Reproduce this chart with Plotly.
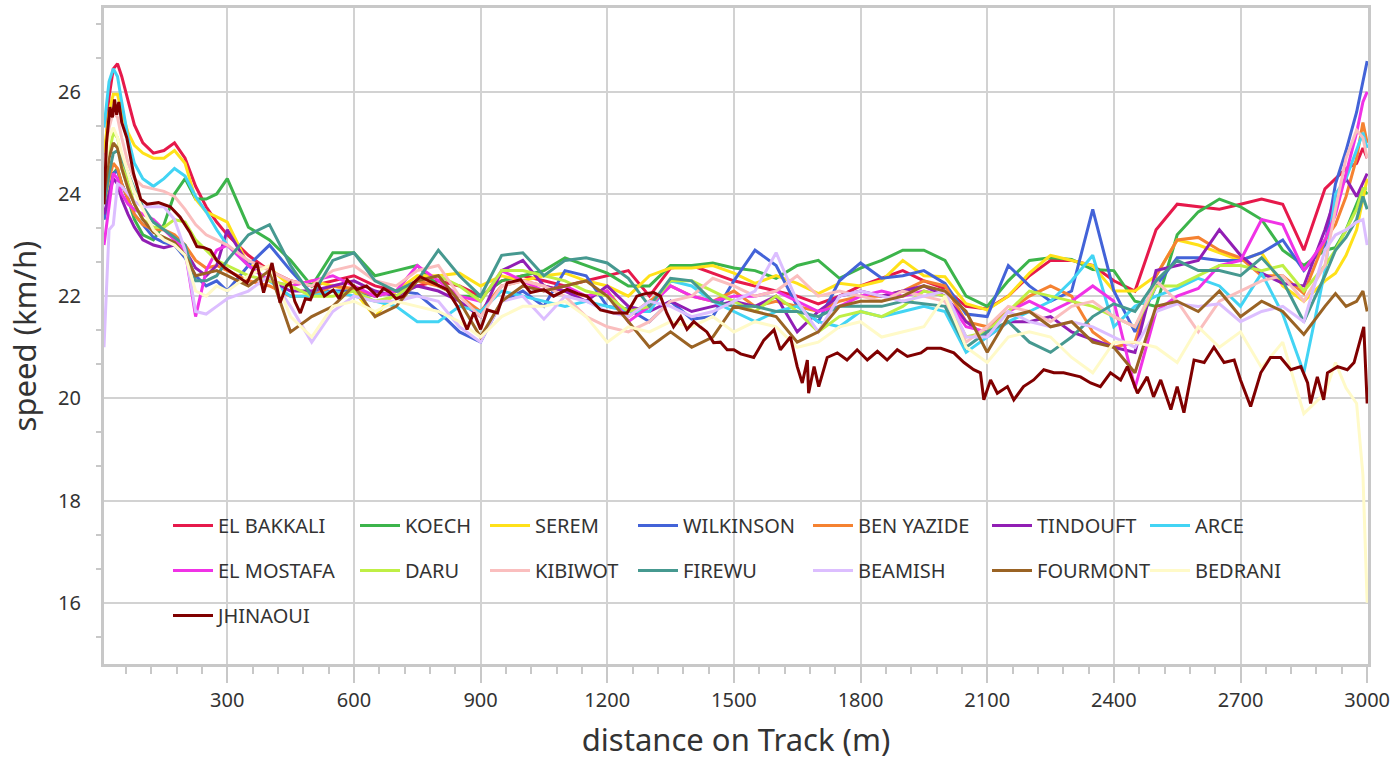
import plotly.graph_objects as go

# ---------------- data ----------------
DIST = [8, 20, 30, 40, 50, 65, 80, 100, 125, 150, 175, 200, 225, 250, 275, 300,
        350, 400, 450, 500, 550, 600, 650, 700, 750, 800,
        850, 900, 950, 1000, 1050, 1100, 1150, 1200, 1250, 1300,
        1350, 1400, 1450, 1500, 1550, 1600, 1650, 1700, 1750, 1800,
        1850, 1900, 1950, 2000, 2050, 2100, 2150, 2200, 2250, 2300,
        2350, 2400, 2450, 2500, 2550, 2600, 2650, 2700, 2750, 2800,
        2850, 2900, 2925, 2950, 2975, 2990, 3000]

EL_BAKKALI = [24.3, 25.9, 26.45, 26.55, 26.3, 25.8, 25.35, 25.0, 24.8, 24.85, 25.0, 24.7, 24.15, 23.75, 23.45, 23.2,
              22.8, 22.5, 22.3, 22.2, 22.3, 22.4, 22.2, 22.1, 22.2, 22.3,
              22.2, 22.0, 22.3, 22.4, 22.3, 22.2, 22.3, 22.4, 22.5, 22.0,
              22.55, 22.6, 22.45, 22.3, 22.2, 22.1, 22.0, 21.85, 22.0, 22.2,
              22.35, 22.5, 22.3, 22.15, 21.8, 21.75, 22.0, 22.4, 22.7, 22.7,
              22.6, 22.3, 22.1, 23.3, 23.8, 23.75, 23.7, 23.8, 23.9, 23.8,
              22.9, 24.1, 24.3, 24.5, 24.6, 24.9, 24.7]
KOECH = [23.5, 24.0, 24.4, 24.5, 24.2, 23.9, 23.5, 23.2, 23.1, 23.4, 24.0, 24.3, 23.9, 23.9, 24.0, 24.3,
         23.35, 23.1, 22.7, 22.2, 22.85, 22.85, 22.4, 22.5, 22.6, 22.2,
         22.0, 22.0, 22.3, 22.4, 22.5, 22.75, 22.6, 22.45, 22.2, 22.2,
         22.6, 22.6, 22.65, 22.55, 22.5, 22.35, 22.6, 22.7, 22.35, 22.55,
         22.7, 22.9, 22.9, 22.7, 22.0, 21.8, 22.3, 22.7, 22.75, 22.72,
         22.52, 22.5, 21.9, 21.8, 23.2, 23.65, 23.9, 23.75, 23.5, 22.9,
         22.6, 22.9, 22.95, 23.3, 23.8, 24.1, 24.0]
SEREM = [24.8, 25.6, 25.95, 25.95, 25.6, 25.2, 24.95, 24.8, 24.7, 24.7, 24.85, 24.6, 23.9, 23.65, 23.55, 23.45,
         22.6, 22.55, 22.2, 22.3, 22.2, 22.1, 21.6, 22.1, 22.4, 22.4,
         22.45, 22.2, 22.4, 22.3, 22.4, 22.45, 22.3, 22.2, 22.0, 22.4,
         22.55, 22.55, 22.6, 22.45, 22.25, 22.4, 22.25, 22.05, 22.25, 22.2,
         22.3, 22.7, 22.4, 22.38, 21.85, 21.73, 22.0, 22.45, 22.8, 22.7,
         22.6, 22.1, 22.1, 22.4, 23.1, 23.0, 22.85, 22.7, 22.85, 22.2,
         21.9, 22.3, 22.45, 22.8, 23.3, 23.9, 24.3]
WILKINSON = [23.5, 24.0, 24.4, 24.45, 24.2, 23.9, 23.6, 23.4, 23.15, 23.05, 23.0, 22.75, 22.4, 22.2, 22.3, 22.1,
             22.6, 23.0, 22.5, 22.05, 22.1, 22.1, 22.0, 22.1, 22.05, 21.7,
             21.3, 21.1, 21.9, 22.1, 21.8, 22.5, 22.4, 21.8, 21.75, 21.5,
             21.9, 21.55, 21.6, 22.3, 22.9, 22.6, 21.8, 21.5, 22.3, 22.65,
             22.35, 22.4, 22.5, 22.25, 21.65, 21.6, 22.6, 22.2, 21.9, 22.1,
             23.7, 22.1, 21.3, 22.2, 22.75, 22.75, 22.7, 22.7, 22.85, 23.1,
             22.5, 23.0, 24.2, 24.85, 25.6, 26.2, 26.6]
BEN_YAZIDE = [23.8, 24.3, 24.6, 24.5, 24.2, 23.9, 23.6, 23.4, 23.3, 23.3, 23.2, 23.0, 22.7, 22.55, 22.6, 22.5,
              22.3, 22.2, 22.0, 22.0, 22.2, 22.15, 22.0, 22.1, 22.3, 22.2,
              22.0, 21.7, 22.2, 22.3, 22.2, 22.1, 22.0, 22.1, 21.6, 21.9,
              22.2, 22.0, 21.9, 22.1, 21.8, 21.9, 21.8, 21.7, 21.9, 22.0,
              22.0, 22.1, 22.3, 22.2, 21.5, 21.4, 21.7, 22.0, 22.2, 22.0,
              21.3, 21.0, 21.1, 22.4, 23.1, 23.15, 22.9, 22.75, 22.4, 22.4,
              22.05, 23.1, 23.4, 23.95, 24.7, 25.4, 25.0]
TINDOUFT = [23.6, 24.0, 24.3, 24.2, 23.9, 23.6, 23.35, 23.1, 23.0, 22.95, 23.0, 22.9, 22.55, 22.4, 22.6, 23.3,
            22.6, 22.3, 22.1, 22.1, 22.2, 22.3, 22.1, 22.0, 22.2, 22.1,
            21.9, 21.6, 22.5, 22.7, 22.2, 22.1, 21.9, 22.2, 21.8, 21.7,
            21.9, 21.7, 21.8, 21.9, 21.8, 22.0, 21.3, 21.7, 22.0, 22.1,
            22.0, 22.1, 22.2, 22.0, 21.5, 21.2, 21.5, 21.5, 21.6, 21.3,
            21.15, 21.0, 20.9, 22.5, 22.6, 22.7, 23.3, 22.8, 22.45, 22.25,
            22.2, 23.3, 23.95, 24.3, 23.95, 24.2, 24.4]
ARCE = [25.3, 26.2, 26.45, 26.3, 25.8, 25.1, 24.6, 24.3, 24.15, 24.3, 24.5, 24.35, 23.95, 23.65, 23.3, 23.0,
        22.6, 22.3, 22.0, 22.0, 22.1, 22.0, 21.9, 21.8, 21.5, 21.5,
        21.8, 21.7, 22.1, 22.0, 21.9, 21.8, 21.9, 21.8, 21.7, 21.7,
        22.3, 22.2, 21.9, 21.7, 21.5, 21.7, 21.8, 21.5, 21.4, 21.7,
        21.6, 21.7, 21.8, 21.7, 20.9, 21.2, 21.5, 21.7, 21.9, 22.3,
        22.8, 21.4, 21.8, 22.0, 22.15, 22.35, 22.2, 21.8, 22.45, 21.65,
        20.5, 22.5, 24.0, 24.3, 24.85, 25.2, 24.9]
EL_MOSTAFA = [23.0, 23.8, 24.4, 24.3, 24.0, 23.8, 23.7, 23.6, 23.5, 23.3, 23.1, 22.9, 21.6, 22.5, 22.9, 23.0,
              22.6, 22.3, 22.2, 22.3, 22.4, 22.2, 22.0, 22.1, 22.6, 22.3,
              22.0, 21.9, 22.5, 22.3, 22.1, 22.2, 22.0, 22.1, 21.5, 21.8,
              22.2, 22.0, 21.9, 22.0, 22.0, 22.1, 21.9, 21.7, 21.8, 22.0,
              22.1, 22.0, 22.1, 22.0, 21.4, 21.3, 21.7, 21.9, 21.7, 21.9,
              22.2, 21.9, 20.2, 21.7, 22.0, 22.15, 22.6, 22.7, 23.5, 23.4,
              22.5, 23.1, 23.6, 24.4, 25.2, 25.8, 26.0]
DARU = [24.0, 24.8, 25.2, 25.1, 24.7, 24.2, 23.8, 23.5, 23.35, 23.35, 23.5, 23.45, 23.1, 22.9, 22.7, 22.6,
        22.4, 22.3, 22.2, 22.0, 22.0, 22.1, 21.9, 22.0, 22.3, 22.4,
        22.2, 21.9, 22.5, 22.5, 22.4, 22.3, 22.1, 22.0, 21.7, 21.8,
        22.3, 22.3, 22.1, 21.9, 21.7, 22.0, 21.7, 21.3, 21.6, 21.7,
        21.6, 21.8, 22.1, 22.0, 21.2, 21.3, 21.7, 22.1, 22.0, 21.9,
        21.8, 21.6, 21.4, 22.2, 22.2, 22.4, 22.6, 22.6, 22.5, 22.6,
        22.1, 22.6, 22.9, 23.3, 23.7, 24.1, 24.1]
KIBIWOT = [24.5, 25.3, 25.6, 25.5, 25.1, 24.6, 24.3, 24.15, 24.1, 24.05, 23.95, 23.7, 23.4, 23.2, 23.1, 23.0,
           22.7, 22.5, 22.3, 22.2, 22.5, 22.6, 22.3, 22.2, 22.5, 22.6,
           22.0, 21.6, 22.2, 22.3, 22.2, 22.0, 21.6, 21.4, 21.3, 21.5,
           21.9, 22.0, 22.35, 22.2, 22.0, 22.1, 22.4, 22.0, 22.1, 22.0,
           21.9, 22.1, 22.0, 21.9, 21.1, 21.4, 21.8, 21.7, 21.5, 21.8,
           21.9, 21.6, 21.4, 22.3, 21.9, 21.3, 21.9, 22.1, 22.3, 22.4,
           21.9, 22.6, 23.7, 24.7, 25.25, 25.1, 24.7]
FIREWU = [23.8, 24.4, 24.8, 24.85, 24.7, 24.4, 24.1, 23.75, 23.45, 23.3, 23.15, 23.0, 22.3, 22.3, 22.4, 22.7,
          23.2, 23.4, 22.6, 22.0, 22.7, 22.85, 22.3, 22.1, 22.3, 22.9,
          22.4, 22.0, 22.8, 22.85, 22.4, 22.7, 22.75, 22.65, 22.35, 21.8,
          22.35, 22.3, 21.9, 21.8, 21.8, 21.7, 21.7, 21.6, 21.8, 21.8,
          21.8, 21.9, 21.85, 21.8, 21.0, 21.3, 21.5, 21.1, 20.9, 21.2,
          21.6, 21.85, 21.7, 22.3, 22.7, 22.5, 22.5, 22.4, 22.75, 22.3,
          21.5, 22.4, 22.9, 23.15, 23.5, 23.95, 23.7]
BEAMISH = [21.0, 23.3, 23.4, 24.2, 24.15, 24.0, 23.85, 23.75, 23.75, 23.75, 23.5, 22.9, 21.7, 21.65, 21.8, 21.95,
           22.1, 22.4, 21.8, 21.1, 21.7, 22.0, 21.9, 21.9, 22.0, 21.9,
           21.4, 21.1, 21.9, 22.0, 21.55, 22.0, 21.9, 21.7, 21.6, 21.9,
           21.8, 21.6, 21.7, 21.9, 22.1, 22.85, 21.9, 21.3, 22.0, 22.1,
           22.0, 21.9, 22.0, 22.1, 21.2, 21.2, 21.7, 21.5, 21.4, 21.5,
           21.4, 21.2, 21.0, 21.7, 21.85, 21.8, 21.85, 21.5, 21.7, 21.8,
           21.5, 22.9, 23.2, 23.3, 23.45, 23.5, 23.0]
FOURMONT = [24.0, 24.7, 25.0, 24.9, 24.5, 24.1, 23.8, 23.5, 23.25, 23.15, 23.05, 22.8, 22.4, 22.45, 22.5, 22.4,
            22.2, 22.5, 21.3, 21.6, 21.8, 22.2, 21.6, 21.8, 22.3, 22.4,
            21.9, 21.2, 21.9, 22.2, 22.1, 22.2, 22.3, 22.0, 21.5, 21.0,
            21.3, 21.0, 21.2, 21.8, 21.7, 21.6, 21.1, 21.3, 21.8, 21.9,
            21.9, 22.0, 22.2, 22.1, 21.7, 20.9, 21.6, 21.7, 21.4, 21.5,
            21.1, 21.0, 20.5, 21.8, 21.9, 21.7, 22.1, 21.6, 21.9, 21.7,
            21.25, 21.8, 22.05, 21.8, 21.9, 22.1, 21.7]
BEDRANI = [24.3, 25.1, 25.3, 25.1, 24.8, 24.4, 24.05, 23.7, 23.3, 23.1, 23.0, 22.8, 22.1, 22.0, 22.2, 22.1,
           22.4, 22.6, 21.6, 21.2, 21.8, 21.9, 21.7, 21.9, 21.8, 21.7,
           21.5, 21.2, 21.6, 21.8, 21.8, 21.9, 21.6, 21.1, 21.4, 21.3,
           21.5, 21.4, 21.6, 21.3, 21.5, 21.4, 21.0, 21.1, 21.4, 21.5,
           21.2, 21.3, 21.4, 22.0, 21.0, 20.7, 21.2, 21.3, 21.2, 20.8,
           20.5, 21.1, 21.1, 21.0, 20.7, 21.4, 21.0, 21.3, 20.6, 21.1,
           19.7, 20.1, 20.7, 20.2, 19.9, 18.5, 16.0]

JHINAOUI_DIST = [8, 14, 22, 28, 33, 38, 43, 50, 62, 78, 95, 110, 137, 165, 188, 212, 228, 245, 260, 275,
                 295, 314, 330, 347, 360, 370, 386, 406, 425, 440, 449, 460, 473, 485, 497, 513, 530, 551, 565, 584,
                 607, 630, 655, 670, 686, 700, 717, 740, 757, 788, 820, 845, 868, 884, 900, 916, 940, 963, 995, 1018,
                 1050, 1073, 1105, 1130, 1152, 1184, 1215, 1247, 1270, 1290, 1310, 1326, 1341, 1357, 1374, 1389, 1405, 1420, 1436, 1452,
                 1468, 1484, 1500, 1516, 1547, 1571, 1595, 1610, 1634, 1650, 1662, 1674, 1677, 1690, 1701, 1721, 1745, 1768, 1792, 1816,
                 1840, 1863, 1887, 1911, 1943, 1958, 1990, 2021, 2045, 2068, 2084, 2092, 2108, 2124, 2148, 2163, 2186, 2210, 2234, 2258,
                 2281, 2321, 2345, 2368, 2392, 2416, 2432, 2456, 2479, 2494, 2511, 2535, 2550, 2566, 2590, 2614, 2637, 2661, 2685, 2700,
                 2724, 2748, 2771, 2795, 2819, 2843, 2859, 2866, 2882, 2897, 2906, 2930, 2953, 2969, 2985, 2992, 3000]
JHINAOUI = [23.8, 25.0, 25.7, 25.5, 25.85, 25.55, 25.8, 25.4, 25.1, 24.4, 23.9, 23.8, 23.83, 23.75, 23.55, 23.24, 22.97, 22.95, 22.9, 22.7,
            22.55, 22.45, 22.35, 22.26, 22.5, 22.65, 22.07, 22.65, 21.87, 22.2, 22.26, 21.9, 21.67, 21.95, 21.93, 22.26, 22.0, 22.12, 21.95, 22.32,
            22.13, 22.2, 22.0, 22.15, 22.07, 21.95, 22.0, 22.25, 22.38, 22.26, 22.13, 21.8, 21.35, 21.68, 21.35, 21.73, 21.67, 22.26, 22.32, 22.07,
            22.13, 22.0, 22.13, 22.05, 22.0, 21.73, 21.67, 21.67, 22.0, 22.05, 22.07, 22.0, 21.67, 21.4, 21.6, 21.35, 21.5, 21.4, 21.3, 21.09,
            21.1, 20.95, 20.95, 20.87, 20.8, 21.14, 21.34, 20.95, 21.2, 20.62, 20.3, 20.75, 20.1, 20.62, 20.23, 20.8, 20.89, 20.75, 20.95, 20.75,
            20.92, 20.75, 20.95, 20.82, 20.89, 20.98, 20.98, 20.89, 20.7, 20.56, 20.5, 19.97, 20.36, 20.1, 20.23, 19.97, 20.23, 20.36, 20.56, 20.5,
            20.5, 20.42, 20.3, 20.23, 20.5, 20.36, 20.62, 20.1, 20.42, 20.03, 20.36, 19.78, 20.23, 19.72, 20.75, 20.7, 21.0, 20.7, 20.75, 20.36,
            19.84, 20.5, 20.8, 20.8, 20.56, 20.62, 20.3, 19.9, 20.42, 19.97, 20.5, 20.62, 20.56, 20.7, 21.2, 21.4, 19.9]

RUNNERS = ["EL BAKKALI", "KOECH", "SEREM", "WILKINSON", "BEN YAZIDE", "TINDOUFT", "ARCE",
           "EL MOSTAFA", "DARU", "KIBIWOT", "FIREWU", "BEAMISH", "FOURMONT", "BEDRANI", "JHINAOUI"]
SPEEDS = [EL_BAKKALI, KOECH, SEREM, WILKINSON, BEN_YAZIDE, TINDOUFT, ARCE,
          EL_MOSTAFA, DARU, KIBIWOT, FIREWU, BEAMISH, FOURMONT, BEDRANI, JHINAOUI]
DISTS = [DIST] * 14 + [JHINAOUI_DIST]
COLORS = ["#e6194b", "#3cb44b", "#ffe119", "#4363d8", "#f58231", "#911eb4", "#42d4f4",
          "#f032e6", "#bfef45", "#fabebe", "#469990", "#dcbeff", "#9a6324", "#fffac8", "#800000"]

# ---------------- figure ----------------
FONT = "Noto Sans, DejaVu Sans, sans-serif"
W, H = 1393, 760
ML, MR, MT, MB = 104, 25, 8, 96
PW, PH = W - ML - MR, H - MT - MB

def px_x(p):
    return (p - ML) / PW

def px_y(p):
    return (H - MB - p) / PH

fig = go.Figure()
for i, (name, xs, ys, col) in enumerate(zip(RUNNERS, DISTS, SPEEDS, COLORS)):
    leg = "legend" if i % 7 == 0 else f"legend{i % 7 + 1}"
    fig.add_trace(go.Scatter(x=xs, y=ys, mode="lines", name=name, legendgroup=name,
                             line=dict(color=col, width=3), legend=leg))

col_px = [168, 355, 485, 633, 808, 987, 1145]
legends = {}
for c, p in enumerate(col_px):
    key = "legend" if c == 0 else f"legend{c + 1}"
    legends[key] = dict(x=px_x(p), y=px_y(506), xanchor="left", yanchor="top",
                        bgcolor="rgba(0,0,0,0)", borderwidth=0, orientation="v",
                        itemwidth=40, tracegroupgap=16,
                        font=dict(family=FONT, size=20, color="#333333"))

fig.update_layout(
    width=W, height=H,
    margin=dict(l=ML, r=MR, t=MT, b=MB, autoexpand=False),
    paper_bgcolor="white", plot_bgcolor="white",
    font=dict(family=FONT, color="#333333"),
    showlegend=True,
    **legends,
    shapes=[dict(type="rect", xref="paper", yref="paper",
                 x0=px_x(148), x1=px_x(1323), y0=px_y(655), y1=px_y(486),
                 fillcolor="rgba(255,255,255,0.88)", line=dict(width=0), layer="between")],
)

fig.update_xaxes(range=[8, 3002], tickmode="linear", tick0=0, dtick=300, automargin=False,
                 showline=True, linecolor="#c8c8c8", linewidth=3, mirror=True,
                 showgrid=True, gridcolor="#d2d2d2", gridwidth=2, zeroline=False,
                 ticks="outside", ticklen=16, tickwidth=2, tickcolor="#c8c8c8",
                 ticklabeloverflow="allow",
                 minor=dict(tick0=0, dtick=60, ticks="outside", ticklen=7, tickwidth=2,
                            tickcolor="#c8c8c8", showgrid=False),
                 tickfont=dict(family=FONT, size=20, color="#333333"),
                 title=dict(text="distance on Track (m)", font=dict(family=FONT, size=31, color="#333333"),
                            standoff=19))
fig.update_yaxes(range=[14.8, 27.64], tickmode="linear", tick0=16, dtick=2, automargin=False,
                 showline=True, linecolor="#c8c8c8", linewidth=3, mirror=True,
                 showgrid=True, gridcolor="#d2d2d2", gridwidth=2, zeroline=False,
                 ticks="outside", ticklen=16, tickwidth=2, tickcolor="rgba(0,0,0,0)",
                 minor=dict(tick0=16, dtick=2 / 3, ticks="outside", ticklen=5, tickwidth=2,
                            tickcolor="#c8c8c8", showgrid=False),
                 tickfont=dict(family=FONT, size=20, color="#333333"),
                 title=dict(text="speed (km/h)", font=dict(family=FONT, size=31, color="#333333"),
                            standoff=13))

fig.write_html("out.html", config={"displayModeBar": False},
               post_script="document.body.style.margin='0';document.body.style.padding='0';")
